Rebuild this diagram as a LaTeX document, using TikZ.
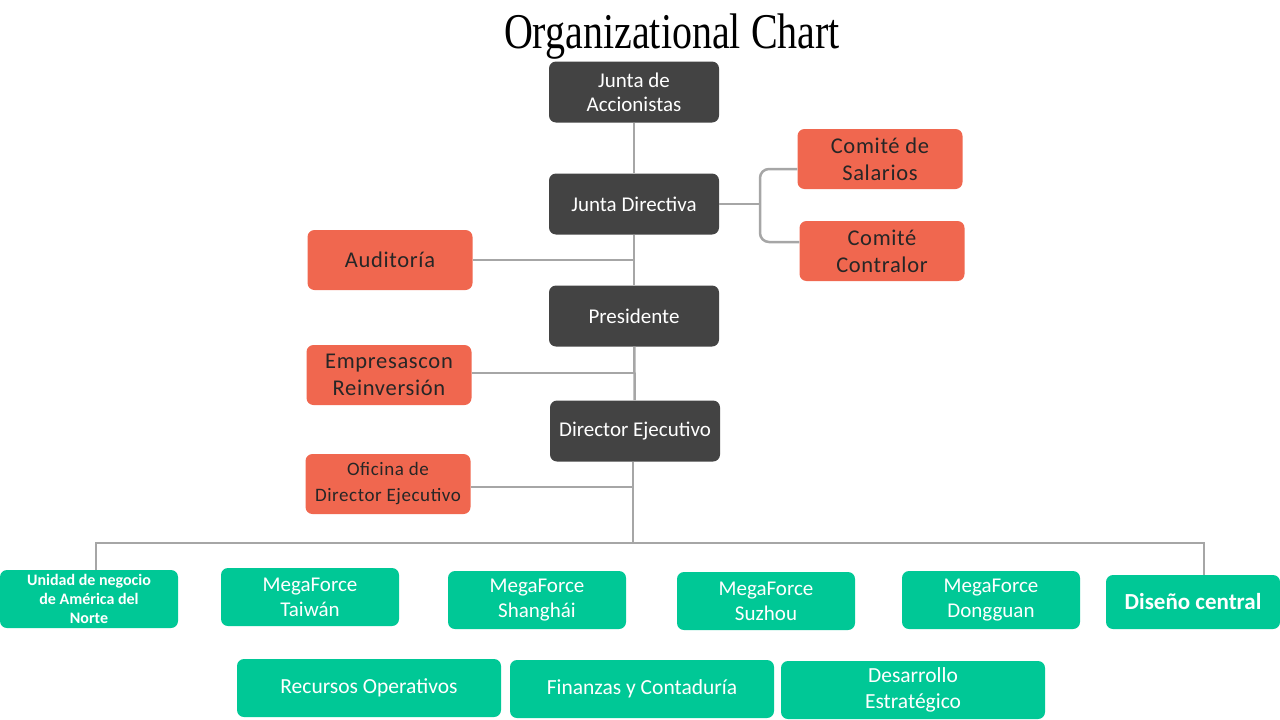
\documentclass[tikz,border=0pt]{standalone}
\usepackage{fontspec}
\setmainfont{Carlito}
\newfontfamily\titlefont{Liberation Serif}
\newfontfamily\widefont[LetterSpace=3]{Carlito}
\definecolor{boardgray}{HTML}{434343}
\definecolor{staffred}{HTML}{F0674F}
\definecolor{unitgreen}{HTML}{00C896}
\definecolor{linegray}{HTML}{A6A6A6}
\tikzstyle{board} = [rectangle, rounded corners=7pt, fill=boardgray, text=white, minimum width=170pt,
minimum height=61pt, align=center, font=\fontsize{21}{24}\selectfont]
\tikzstyle{staff} = [rectangle, rounded corners=7pt, fill=staffred, text=black!85, minimum width=165pt,
minimum height=60pt, align=center, font=\widefont\fontsize{22.5}{27}\selectfont]
\tikzstyle{unit} = [rectangle, rounded corners=7pt, fill=unitgreen, text=white, minimum width=178pt,
minimum height=58pt, align=center, font=\fontsize{21}{25}\selectfont]
\tikzstyle{dept} = [unit, minimum width=264pt, font=\fontsize{21.5}{26}\selectfont]
\tikzstyle{line} = [linegray, line width=2.5pt]

\begin{document}
\begin{tikzpicture}[x=1pt,y=-1pt]
        \useasboundingbox (0,0) rectangle (1280,720);

        \node (title) at (672,37) {\titlefont\fontsize{50}{50}\selectfont\scalebox{0.8}[1]{Organizational Chart}};

        % board column
        \node[board] (jda) at (634,92) {Junta de\\Accionistas};
        \node[board] (jd) at (634,204) {Junta Directiva};
        \node[board] (pres) at (634,316) {Presidente};
        \node[board] (de) at (635,431) {Director Ejecutivo};

        % staff boxes
        \node[staff] (sal) at (880,159) {Comité de\\Salarios};
        \node[staff] (con) at (882,251) {Comité\\Contralor};
        \node[staff] (aud) at (390,260) {Auditoría};
        \node[staff] (emp) at (389,375) {Empresascon\\Reinversión};
        \node[staff, font=\widefont\fontsize{19}{26}\selectfont] (ofi) at (388,484) {Oficina de\\Director Ejecutivo};

        % business units
        \node[unit, font=\bfseries\fontsize{16}{19}\selectfont] (una) at (89,599) {Unidad de negocio\\de América del\\Norte};
        \node[unit] (tai) at (310,597) {MegaForce\\Taiwán};
        \node[unit] (sha) at (537,600) {MegaForce\\Shanghái};
        \node[unit] (suz) at (766,601) {MegaForce\\Suzhou};
        \node[unit] (don) at (991,600) {MegaForce\\Dongguan};
        \node[unit, minimum width=174pt, minimum height=54pt, font=\bfseries\fontsize{23}{26}\selectfont] (dis) at (1193,602) {Diseño central};

        % departments
        \node[dept] (rec) at (369,688) {Recursos Operativos};
        \node[dept] (fin) at (642,689) {Finanzas y Contaduría};
        \node[dept] (des) at (913,690) {Desarrollo\\Estratégico};

        % connectors
        \draw[line] (jda) -- (jd);
        \draw[line] (jd) -- (pres);
        \draw[line] (pres) -- (de);
        \draw[line] (aud.east) -- (aud.east -| jd.south);
        \draw[line] ([yshift=2pt]emp.east) -- ([yshift=2pt]emp.east -| pres.south);

        \coordinate (fork) at (760,204);
        \draw[line] (jd.east) -- (fork);
        \draw[line, rounded corners=9pt] ([yshift=-10pt]sal.west) -| (fork) |- ([yshift=9pt]con.west);

        \coordinate (bus) at (633,543);
        \draw[line] ([xshift=-2pt]de.south) -- (bus);
        \draw[line] ([yshift=-3pt]ofi.east) -- ([yshift=-3pt]ofi.east -| bus);
        \draw[line] ([xshift=7pt]una.north) |- (bus) -| ([xshift=11pt]dis.north);
    \end{tikzpicture}
\end{document}
